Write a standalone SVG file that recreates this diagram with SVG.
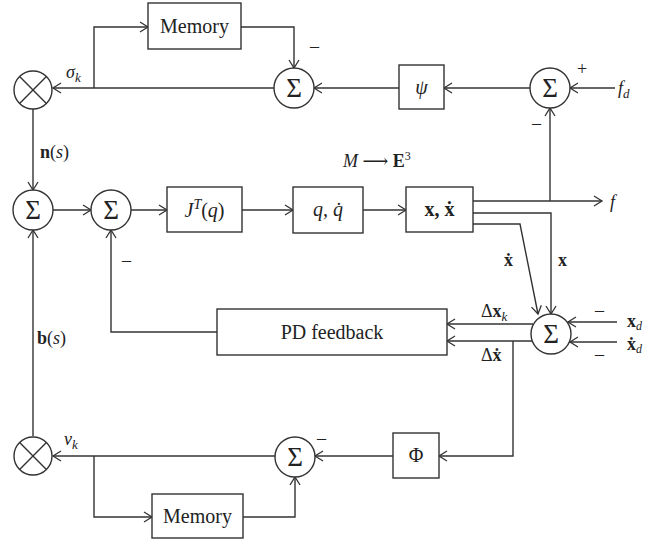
<svg xmlns="http://www.w3.org/2000/svg" width="669" height="544" viewBox="0 0 669 544">
<defs>
<marker id="a" markerWidth="12" markerHeight="12" refX="10" refY="6" orient="auto" markerUnits="userSpaceOnUse"><path d="M2,1 L10,6 L2,11" fill="none" stroke="#333" stroke-width="1.3"/></marker>
<style>
.n{fill:#fff;stroke:#333;stroke-width:1.4}
.c{fill:none;stroke:#333;stroke-width:1.4;marker-end:url(#a)}
.p{fill:none;stroke:#333;stroke-width:1.4}
text{font-family:"Liberation Serif","DejaVu Serif",serif;fill:#222}
.t{font-size:20px;text-anchor:middle}
.s{font-size:27px;text-anchor:middle}
.l{font-size:18px}
.i{font-style:italic}
.b{font-weight:bold}
</style>
</defs>
<g id="connectors">
<path class="c" d="M274,88 H53"/>
<path class="c" d="M94,88 V27 H148"/>
<path class="c" d="M241,27 H294 V68"/>
<path class="c" d="M399,88 H314"/>
<path class="c" d="M530,88 H444"/>
<path class="c" d="M615,88 H570"/>
<path class="c" d="M550,201 V108"/>
<path class="c" d="M473,201 H602"/>
<path class="c" d="M473,213 H551 V314"/>
<path class="c" d="M473,224 H520 L538,314"/>
<path class="c" d="M617,322 H568"/>
<path class="c" d="M617,342 H570"/>
<path class="c" d="M533,324 H447"/>
<path class="c" d="M532,341 H447"/>
<path class="c" d="M513,341 V456 H439"/>
<path class="c" d="M393,456 H315"/>
<path class="c" d="M275,456 H53"/>
<path class="c" d="M94,456 V517 H152"/>
<path class="c" d="M243,517 H295 V477"/>
<path class="c" d="M33,436 V230"/>
<path class="c" d="M33,109 V190"/>
<path class="c" d="M53,210 H91"/>
<path class="c" d="M131,210 H167"/>
<path class="c" d="M242,210 H293"/>
<path class="c" d="M363,210 H406"/>
<path class="c" d="M217,332 H111 V230"/>
</g>
<g id="otimes-top"><circle class="n" cx="33" cy="90" r="19"/><path class="p" d="M19.6,76.6 L46.4,103.4 M46.4,76.6 L19.6,103.4"/></g>
<g id="memory-top"><rect class="n" x="148" y="3" width="93" height="46"/><text class="t" x="194.5" y="33">Memory</text></g>
<g id="sum-1"><circle class="n" cx="294" cy="88" r="20"/><text class="s" x="294" y="97">Σ</text></g>
<g id="psi"><rect class="n" x="399" y="65" width="45" height="44"/><text class="t i" x="421.5" y="94">ψ</text></g>
<g id="sum-2"><circle class="n" cx="550" cy="88" r="20"/><text class="s" x="550" y="97">Σ</text></g>
<g id="sum-a"><circle class="n" cx="33" cy="210" r="20"/><text class="s" x="33" y="219">Σ</text></g>
<g id="sum-b"><circle class="n" cx="111" cy="210" r="20"/><text class="s" x="111" y="219">Σ</text></g>
<g id="jacobian"><rect class="n" x="167" y="187" width="75" height="45"/><text class="t" x="204.5" y="217"><tspan class="i">J</tspan><tspan font-size="14" dy="-8" class="i">T</tspan><tspan dy="8">(</tspan><tspan class="i">q</tspan>)</text></g>
<g id="joint"><rect class="n" x="293" y="187" width="70" height="46"/><text class="t i" x="328" y="216">q, q̇</text></g>
<g id="task"><rect class="n" x="406" y="187" width="67" height="45"/><text class="t b" x="439.5" y="216">x, ẋ</text></g>
<g id="sum-3"><circle class="n" cx="551" cy="334" r="20"/><text class="s" x="551" y="343">Σ</text></g>
<g id="pd"><rect class="n" x="217" y="309" width="230" height="46"/><text class="t" x="332" y="339">PD feedback</text></g>
<g id="phi"><rect class="n" x="393" y="433" width="46" height="45"/><text class="t" x="416" y="462">Φ</text></g>
<g id="sum-4"><circle class="n" cx="295" cy="457" r="20"/><text class="s" x="295" y="466">Σ</text></g>
<g id="otimes-bottom"><circle class="n" cx="33" cy="456" r="19"/><path class="p" d="M19.6,442.6 L46.4,469.4 M46.4,442.6 L19.6,469.4"/></g>
<g id="memory-bottom"><rect class="n" x="152" y="494" width="91" height="44"/><text class="t" x="197.5" y="523">Memory</text></g>
<g id="labels">
<text class="l" x="66" y="78"><tspan class="i">σ</tspan><tspan class="i" font-size="13" dy="4">k</tspan></text>
<text class="l" x="310" y="52">–</text>
<text class="l" x="577" y="75">+</text>
<text class="l" x="618" y="94"><tspan class="i">f</tspan><tspan class="i" font-size="13" dy="4">d</tspan></text>
<text class="l" x="532" y="129">–</text>
<text class="l" x="40" y="158"><tspan class="b">n</tspan>(<tspan class="i">s</tspan>)</text>
<text class="l" x="343" y="167"><tspan class="i">M</tspan> ⟶ <tspan class="b">E</tspan><tspan font-size="12" dy="-7">3</tspan></text>
<text class="l i" x="610" y="208">f</text>
<text class="l b" x="504" y="266">ẋ</text>
<text class="l b" x="558" y="266">x</text>
<text class="l" x="122" y="266">–</text>
<text class="l" x="37" y="344"><tspan class="b">b</tspan>(<tspan class="i">s</tspan>)</text>
<text class="l" x="481" y="317">Δ<tspan class="b">x</tspan><tspan class="i" font-size="13" dy="4">k</tspan></text>
<text class="l" x="481" y="361">Δ<tspan class="b">ẋ</tspan></text>
<text class="l" x="595" y="316">–</text>
<text class="l" x="595" y="360">–</text>
<text class="l" x="627" y="327"><tspan class="b">x</tspan><tspan class="i" font-size="12" dy="3">d</tspan></text>
<text class="l" x="627" y="350"><tspan class="b">ẋ</tspan><tspan class="i" font-size="12" dy="3">d</tspan></text>
<text class="l" x="64" y="445"><tspan class="i">ν</tspan><tspan class="i" font-size="13" dy="4">k</tspan></text>
<text class="l" x="317" y="444">–</text>
</g>
</svg>
